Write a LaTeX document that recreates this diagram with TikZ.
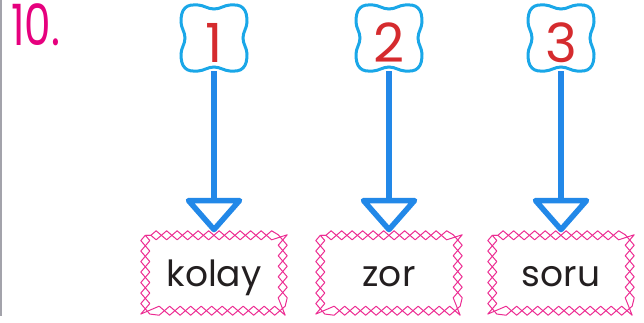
\documentclass[tikz,border=0pt]{standalone}
\usepackage{fontspec}
\setmainfont{Poppins}
\usetikzlibrary{arrows.meta,decorations.pathmorphing}
\definecolor{tenpink}{HTML}{E6007E}
\definecolor{chainpink}{HTML}{EC2C92}
\definecolor{badgecyan}{HTML}{1AA7E8}
\definecolor{arrowblue}{HTML}{2288E8}
\definecolor{numred}{HTML}{D52B2E}
\definecolor{wordink}{HTML}{231F20}
\definecolor{edgegray}{HTML}{A3A3AB}
\begin{document}
\begin{tikzpicture}[x=1pt,y=-1pt,
  badgenode/.style={minimum size=66pt, inner sep=0pt, text height=48pt, text depth=0pt,
    text=numred, font=\fontsize{54}{56}\selectfont},
  badgeline/.style={draw=badgecyan, line width=3pt},
  wordbox/.style={minimum width=137pt, minimum height=75pt, inner sep=0pt,
    text height=30pt, text depth=4pt, text=wordink, font=\fontsize{36}{40}\selectfont},
  chainline/.style={draw=chainpink, line width=1pt, line join=round,
    decorate, decoration={zigzag, segment length=21pt, amplitude=4.5pt}},
  chainmirror/.style={chainline, decoration={zigzag, segment length=21pt, amplitude=4.5pt, mirror}},
  arr/.style={draw=arrowblue, line width=5.5pt,
    -{Triangle[open, length=36pt, width=62pt, line width=5.5pt, round]}, shorten >=3pt}
]
\useasboundingbox (0,0) rectangle (644,322);
\draw[edgegray, line width=2.5pt] (1.2,0) -- (1.2,316);
\node[anchor=base west, text=tenpink, inner sep=0pt, font=\fontsize{57}{60}\selectfont]
  (ten) at (11,45) {\scalebox{0.74}[1]{10.}};
\foreach \x/\n/\w in {214/1/kolay, 389/2/zor, 561/3/soru}{
  \node[badgenode] (b\n) at (\x,38) {\n};
  \begin{scope}[shift={(b\n.center)}]
    \draw[badgeline] plot[smooth cycle, tension=0.7] coordinates {
      (-16,-33) (0,-29) (16,-33) (29,-30) (33,-16) (29,0) (33,16) (29,30)
      (16,33) (0,29) (-16,33) (-29,30) (-33,16) (-29,0) (-33,-16) (-29,-30)};
  \end{scope}
  \node[wordbox] (w\n) at (\x,273) {\w};
  \draw[chainline] (w\n.north west) rectangle (w\n.south east);
  \draw[chainmirror] (w\n.north west) rectangle (w\n.south east);
  \draw[arr] (b\n.south) -- (w\n.north);
}
\end{tikzpicture}
\end{document}
